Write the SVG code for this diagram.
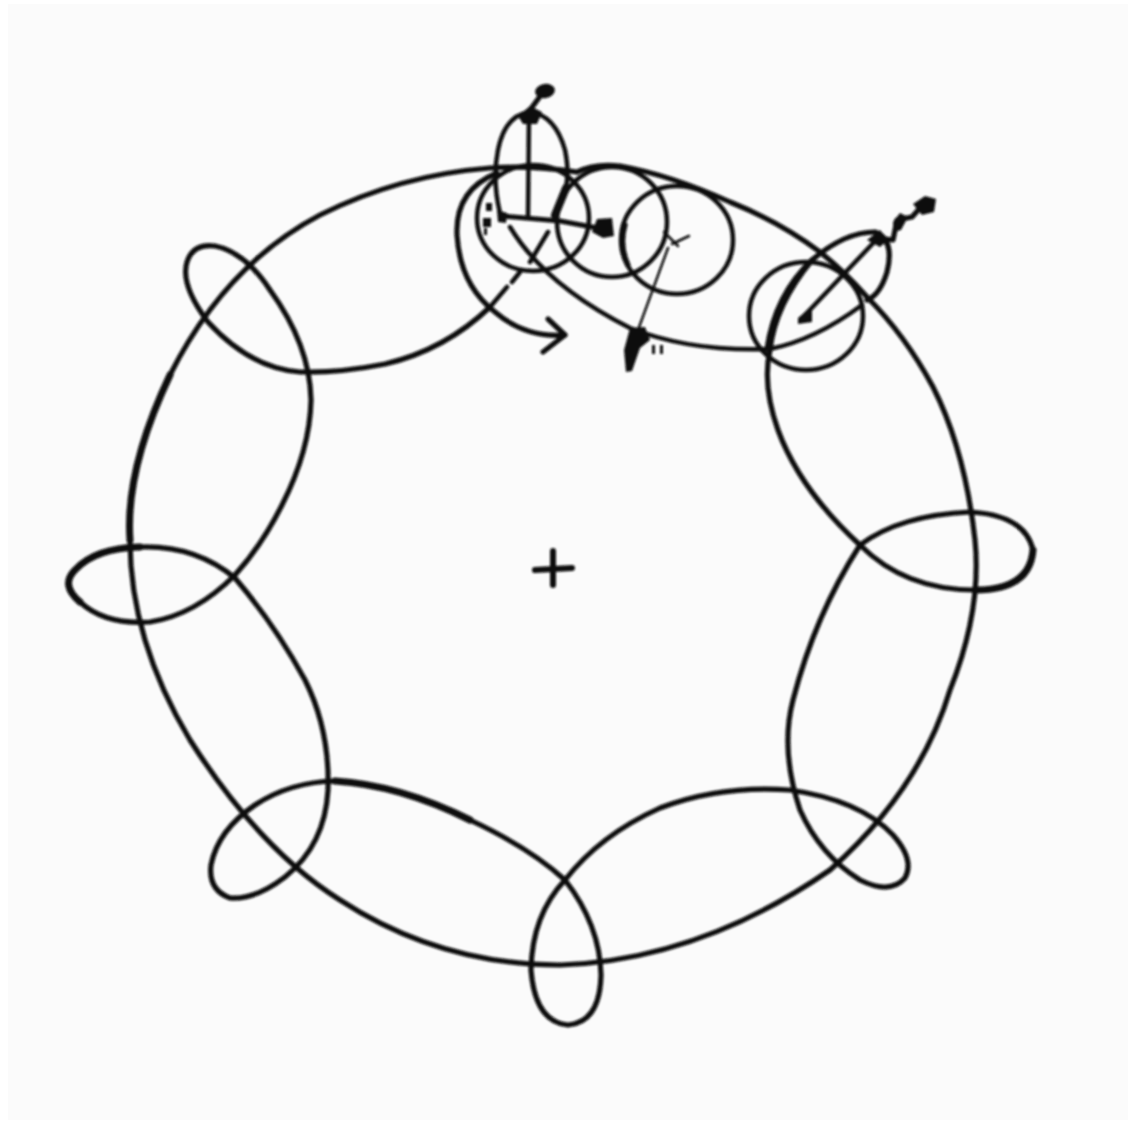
<svg xmlns="http://www.w3.org/2000/svg" width="1132" height="1131" viewBox="0 0 1132 1131">
<defs><filter id="scan" x="-5%" y="-5%" width="110%" height="110%"><feGaussianBlur stdDeviation="0.8"/></filter></defs>
<style>
.l{fill:none;stroke:#0c0c0c;stroke-width:5.2;stroke-linecap:round;stroke-linejoin:round}
.t{stroke-width:4.5}.h{stroke-width:2.5}.b{stroke-width:8}
.f{fill:#0c0c0c;stroke:none}
</style>
<rect width="1132" height="1131" fill="#ffffff"/>
<rect x="8" y="4" width="1120" height="1116" fill="#fbfbfb"/>
<g filter="url(#scan)">
<g id="connectors">
<path id="ring" class="l" d="M577,172 Q530,165 490,168 Q400,175 320,215 Q225,265 170,375 Q125,470 130,540 Q130,640 190,740 Q260,850 340,900 Q440,965 560,965 Q700,960 830,870 Q920,790 950,690 Q982,610 975,540 Q965,450 933,387 Q905,335 867,297 Q845,272 820,252 Q780,222 730,202 Q670,175 620,166 Q595,163 577,172"/>
<path id="petals" class="l" d="M490,307 Q445,350 385,364 Q340,373 300,372 Q250,368 208,322 Q180,285 187,262 Q193,243 215,246 Q245,252 270,290 Q310,345 311,400 Q310,450 282,505 Q262,545 235,575 Q195,615 150,622 Q105,625 80,602 Q60,585 75,570 Q95,548 140,547 Q195,545 235,578 Q275,625 305,680 Q330,730 328,790 Q325,845 285,877 Q255,900 230,898 Q208,890 211,865 Q218,830 255,805 Q290,782 335,781 Q400,785 470,820 Q530,848 565,880 Q600,925 601,975 Q600,1022 568,1025 Q535,1022 531,970 Q532,915 565,880 Q600,835 660,808 Q720,785 790,790 Q860,800 893,835 Q915,860 905,878 Q890,895 860,880 Q820,855 800,810 Q780,750 793,700 Q815,615 860,545 Q900,515 970,512 Q1025,515 1033,550 Q1030,590 975,590 Q905,590 860,545 Q800,490 778,430 Q762,385 770,350 Q775,305 812,260 Q845,232 875,232 Q895,240 887,272 Q880,295 867,300"/>
<path id="heavy-strokes" class="l" style="stroke-width:7" d="M80,602 Q60,585 75,570 Q95,548 140,547 M975,590 Q1030,590 1033,550 M335,781 Q400,785 470,820 M170,375 Q125,470 130,540"/>
<path id="top-lobe" class="l t" d="M500,213 Q492,180 498,150 Q505,115 530,112 Q555,115 565,150 Q570,175 565,190"/>
<path id="lower-curve" class="l t" d="M510,227 Q545,285 630,328 Q690,352 770,349 Q815,340 862,305"/>
<path id="inner-arc" class="l" d="M497,173 Q455,190 457,235 Q460,285 495,312 Q525,338 565,335"/>
<path id="arrow-head" class="l" d="M548,319 L565,335 L543,352"/>
<path id="diagonal-dash" class="l t" d="M490,307 L507,287 M512,282 L520,272 M530,262 L548,232"/>
<path id="thick-mark" class="l b" d="M555,215 L566,188"/>
<path id="vertical" class="l t" d="M528,218 L529,112"/>
<path id="horizontal" class="l" d="M502,216 L560,221 L608,230"/>
<path id="thin-line" class="l h" d="M668,248 L638,330"/>
<path id="cross" class="l h" d="M664,232 L678,246 M672,244 L689,236"/>
<path id="diag-right" class="l t" d="M805,315 L878,238"/>
<path id="squiggle" class="l" d="M878,238 L893,240 L897,220 L912,217 L920,208"/>
<path id="stem" class="l" d="M530,110 L541,95"/>
</g>
<g id="circle-1"><ellipse class="l t" cx="533" cy="218" rx="56" ry="53"/></g>
<g id="circle-2"><ellipse class="l t" cx="612" cy="222" rx="55" ry="55"/></g>
<g id="circle-3"><ellipse class="l t" cx="677" cy="240" rx="56" ry="54"/><path class="l" d="M625,225 Q619,245 628,265"/></g>
<g id="circle-4"><ellipse class="l t" cx="806" cy="316" rx="57" ry="54"/><path class="l" d="M767,349 Q775,295 812,260"/></g>
<g id="center"><path class="l" style="stroke-width:6" d="M535,570 L572,568 M553,551 L553,585"/></g>
<g id="marks">
<ellipse class="f" cx="545" cy="91" rx="10" ry="7" transform="rotate(-10 545 91)"/>
<path class="f" d="M518,116 L530,106 L542,112 L537,124 L523,124Z"/>
<path class="f" d="M597,219 L612,218 L614,236 L603,238 L592,232Z"/>
<path class="f" d="M630,328 L645,327 L650,340 L640,348 L632,371 L626,372 L624,350Z"/>
<path class="f" d="M652,345 h3 v9 h-3z M660,345 h3 v9 h-3z"/>
<path class="f" d="M798,318 L812,306 L812,322 L798,324Z"/>
<path class="f" d="M867,240 L880,230 L888,240 L880,247Z"/>
<path class="f" d="M913,204 L925,196 L936,199 L934,212 L922,215Z"/>
<path class="f" d="M893,222 L900,213 L908,217 L901,230 L894,232Z"/>
<path class="f" d="M486,203 h6 v8 h-6z M483,218 h8 v9 h-8z M484,228 h3 v7 h-3z"/>
<path class="f" d="M497,210 L507,213 L506,223 L498,222Z"/>
</g>
</g>
</svg>
